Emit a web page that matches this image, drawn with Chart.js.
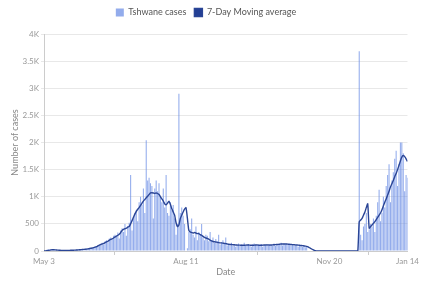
<!DOCTYPE html>
<html>
<head>
<meta charset="utf-8">
<script src="https://cdn.jsdelivr.net/npm/chart.js@4.4.1/dist/chart.umd.min.js"></script>
<style>
  html, body { margin: 0; padding: 0; background: #fff; }
  #wrap { width: 421px; height: 281px; }
</style>
</head>
<body>
<div id="wrap"><canvas id="myChart" width="421" height="281"></canvas></div>
<script>
// daily cases from May 3 (day 0) to Jan 14 (day 256)
const cases = [
  5, 10, 25, 30, 20, 35, 15, 20, 10, 12,
  8, 10, 15, 12, 10, 9, 14, 12, 10, 15,
  18, 12, 20, 25, 22, 30, 28, 35, 30, 40,
  45, 38, 55, 60, 50, 70, 85, 90, 110, 100,
  130, 150, 120, 180, 200, 160, 230, 250, 210, 280,
  300, 260, 340, 230, 380, 420, 350, 500, 280, 460,
  520, 1400, 380, 600, 700, 750, 550, 900, 1000, 850,
  1150, 700, 2040, 1300, 1350, 1250, 1200, 600, 1150, 1300,
  1100, 1250, 1000, 900, 1150, 800, 1400, 700, 650, 900,
  750, 850, 600, 300, 500, 2900, 700, 800, 650, 500,
  0, 50, 350, 400, 600, 300, 250, 450, 200, 350,
  300, 500, 250, 200, 300, 280, 180, 350, 200, 250,
  150, 220, 180, 300, 120, 160, 200, 140, 250, 100,
  120, 100, 150, 90, 130, 80, 110, 140, 90, 120,
  100, 150, 90, 110, 130, 100, 80, 120, 140, 110,
  90, 120, 100, 130, 80, 110, 100, 120, 90, 130,
  110, 100, 140, 90, 120, 130, 110, 150, 100, 140,
  120, 130, 110, 140, 100, 120, 90, 110, 100, 80,
  110, 90, 80, 100, 70, 90, 0, 0, 0, 0,
  0, 0, 0, 0, 0, 0, 0, 0, 0, 0,
  0, 0, 0, 0, 0, 0, 0, 0, 0, 0,
  0, 0, 0, 0, 0, 0, 0, 0, 0, 0,
  0, 0, 3680, 300, 200, 450, 500, 700, 350, 400,
  500, 450, 600, 350, 650, 900, 1130, 550, 700, 1000,
  800, 1200, 1400, 1600, 900, 1300, 1450, 1700, 1850, 1200,
  1600, 2000, 2000, 1800, 1100, 1400, 1350
];

const movingAvg = [
  0, 2, 5, 10, 15, 20, 22, 22, 20, 18,
  16, 14, 12, 11, 11, 11, 12, 12, 12, 13,
  14, 15, 16, 18, 20, 22, 25, 28, 30, 32,
  35, 40, 45, 50, 55, 62, 70, 80, 95, 110,
  120, 130, 140, 155, 170, 180, 200, 215, 225, 240,
  260, 275, 290, 310, 340, 380, 400, 410, 420, 440,
  450, 500, 560, 620, 680, 730, 770, 800, 840, 880,
  920, 950, 980, 1010, 1040, 1070, 1075, 1070, 1060, 1070,
  1060, 1040, 1000, 960, 920, 870, 850, 880, 920, 860,
  780, 720, 660, 520, 450, 480, 600, 660, 720, 770,
  800, 600, 380, 350, 340, 330, 340, 330, 320, 320,
  300, 290, 270, 250, 240, 230, 220, 200, 185, 175,
  170, 165, 160, 155, 150, 150, 145, 140, 135, 130,
  125, 120, 120, 115, 115, 110, 110, 108, 108, 105,
  105, 105, 108, 110, 110, 108, 105, 105, 108, 110,
  110, 108, 105, 105, 108, 110, 110, 112, 110, 108,
  110, 112, 115, 118, 120, 122, 125, 128, 130, 130,
  130, 128, 125, 122, 120, 118, 115, 112, 110, 108,
  105, 102, 100, 95, 90, 85, 75, 60, 45, 30,
  18, 8, 0, 0, 0, 0, 0, 0, 0, 0,
  0, 0, 0, 0, 0, 0, 0, 0, 0, 0,
  0, 0, 0, 0, 0, 0, 0, 0, 0, 0,
  0, 0, 540, 570, 600, 660, 720, 800, 870, 420,
  450, 480, 510, 540, 580, 620, 660, 700, 760, 830,
  900, 960, 1030, 1100, 1180, 1240, 1300, 1370, 1430, 1500,
  1580, 1660, 1730, 1760, 1740, 1700, 1650
];

const tickDays = [0, 100, 201, 256];
const tickLabels = ["May 3", "Aug 11", "Nov 20", "Jan 14"];

const barPoints = cases.map((v, i) => ({ x: i, y: v }));
const avgPoints = movingAvg.map((v, i) => ({ x: i, y: v }));

Chart.defaults.font.family = "Lato, 'Open Sans', sans-serif";
Chart.defaults.animation = false;

// a bit more room under the legend
const legendSpace = {
  id: "legendSpace",
  beforeInit(chart) {
    const fit = chart.legend.fit;
    chart.legend.fit = function() {
      fit.bind(chart.legend)();
      this.height += 7;
    };
  }
};

const ctx = document.getElementById("myChart").getContext("2d");
new Chart(ctx, {
  type: "bar",
  plugins: [legendSpace],
  data: {
    datasets: [
      {
        type: "bar",
        label: "Tshwane cases",
        data: barPoints,
        backgroundColor: "rgba(105, 140, 228, 0.72)",
        borderWidth: 0,
        categoryPercentage: 1,
        barPercentage: 0.75,
        order: 2
      },
      {
        type: "line",
        label: "7-Day Moving average",
        data: avgPoints,
        borderColor: "#2a4596",
        backgroundColor: "#233f95",
        borderWidth: 1.4,
        pointRadius: 0,
        tension: 0.2,
        order: 1
      }
    ]
  },
  options: {
    responsive: false,
    layout: { padding: { left: 0, right: 9, top: 0, bottom: 0 } },
    plugins: {
      legend: {
        position: "top",
        labels: {
          boxWidth: 8,
          boxHeight: 8,
          padding: 8,
          color: "#555",
          font: { size: 9 },
          sort: (a, b) => a.datasetIndex - b.datasetIndex
        }
      },
      tooltip: { enabled: false }
    },
    scales: {
      x: {
        type: "linear",
        min: 0,
        max: 256,
        offset: false,
        afterBuildTicks: (scale) => {
          scale.ticks = tickDays.map(v => ({ value: v }));
        },
        afterFit: (scale) => { scale.height = 30; },
        ticks: {
          autoSkip: false,
          maxRotation: 0,
          padding: 2,
          color: "#999",
          font: { size: 8 },
          callback: (value) => tickLabels[tickDays.indexOf(value)]
        },
        grid: { drawOnChartArea: false, tickLength: 4, color: "#ccc" },
        border: { color: "#ccc" },
        title: {
          display: true,
          text: "Date",
          color: "#888",
          font: { size: 9 },
          padding: { top: 0, bottom: 4 }
        }
      },
      y: {
        min: 0,
        max: 4000,
        afterFit: (scale) => { scale.width = 44; },
        ticks: {
          stepSize: 500,
          padding: 2,
          color: "#999",
          font: { size: 8 },
          callback: (v) => v < 1000 ? v : (v / 1000) + "K"
        },
        grid: { color: "#e8e8e8", tickLength: 3 },
        border: { color: "#ccc" },
        title: {
          display: true,
          text: "Number of cases",
          color: "#888",
          font: { size: 9 },
          padding: { top: 10, bottom: 0 }
        }
      }
    }
  }
});
</script>
</body>
</html>
